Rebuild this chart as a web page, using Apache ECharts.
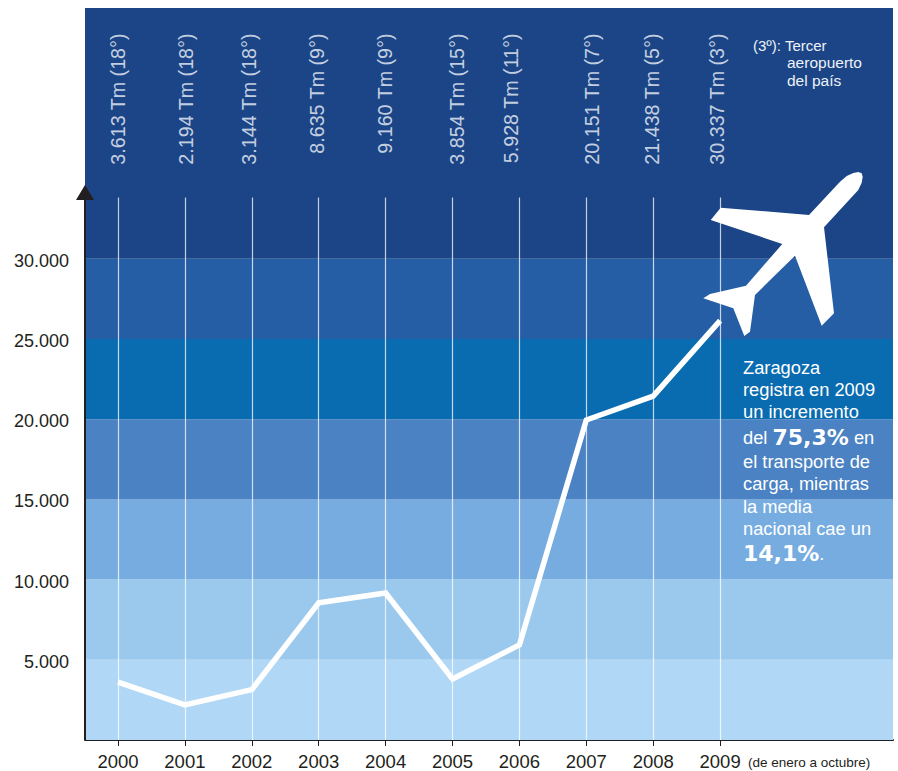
<!DOCTYPE html>
<html>
<head>
<meta charset="utf-8">
<style>
html,body{margin:0;padding:0;background:#fff}
#main{width:898px;height:771px}
</style>
<script src="https://cdn.jsdelivr.net/npm/echarts@6/dist/echarts.min.js"></script>
</head>
<body>
<div id="main"></div>
<script>
// data
const years = [2000,2001,2002,2003,2004,2005,2006,2007,2008,2009];
const tonnes = [3613,2194,3144,8560,9160,3800,5928,19950,21438,26150];
const yearLabels = ['3.613 Tm (18°)','2.194 Tm (18°)','3.144 Tm (18°)','8.635 Tm (9°)','9.160 Tm (9°)','3.854 Tm (15°)','5.928 Tm (11°)','20.151 Tm (7°)','21.438 Tm (5°)','30.337 Tm (3°)'];
const yTicks = [5000,10000,15000,20000,25000,30000];
const yTickLabels = ['5.000','10.000','15.000','20.000','25.000','30.000'];
const bandEdges = [0,5000,10000,15000,20000,25000,30000,45636];
const bandColors = ['#b0d7f5','#9bc9ee','#77ace0','#4a82c3','#0a6cb0','#265ea6','#1b4587'];

// layout
const xMin = 1999.507, xMax = 2011.584, yMax = 45636;
const dropTop = 33820, arrowTop = 34133, labelY = 44046;
const labelNudge = [0,1.5,-3,-2,-1,4,-8,6,-1,-3];
const font = '"Liberation Sans", Arial, sans-serif';

const planePoints = [[840,181.7],[846.7,176],[853.3,173],[858.3,172],[861.7,173.3],[862.7,176.7],[861.7,182.7],[858.3,190],[824,227.3],[834,313.3],[821.7,325.7],[795,255.7],[755,295],[750,331.7],[744.3,336],[733.3,308.3],[703.3,298.3],[710,294],[746,285.7],[782.3,244],[710.7,220],[720.7,207.7],[809,215]];

const noteLines = [
  [367,'Zaragoza'],[389,'registra en 2009'],[411,'un incremento'],
  [437,'del {b|75,3%} en'],[461,'el transporte de'],[483,'carga, mientras'],
  [506,'la media'],[528,'nacional cae un'],[553,'{b|14,1%}.']
];

const graphics = [
  {type:'polygon',z:50,shape:{points:planePoints},style:{fill:'#fff'}},
  {type:'text',z:50,x:753,y:45,style:{text:'(3º): Tercer',fill:'#eef2f8',font:'15px '+font,verticalAlign:'middle'}},
  {type:'text',z:50,x:787,y:62,style:{text:'aeropuerto',fill:'#eef2f8',font:'15.5px '+font,verticalAlign:'middle'}},
  {type:'text',z:50,x:787,y:80,style:{text:'del país',fill:'#eef2f8',font:'15.5px '+font,verticalAlign:'middle'}},
  {type:'text',z:50,x:748,y:762,style:{text:'(de enero a octubre)',fill:'#231f20',font:'13.5px '+font,verticalAlign:'middle'}}
];
noteLines.forEach(l=>{
  graphics.push({type:'text',z:50,x:743,y:l[0],style:{
    text:l[1],fill:'#fff',font:'18.3px '+font,verticalAlign:'middle',
    rich:{b:{font:'bold 22px "DejaVu Sans"',fill:'#fff',verticalAlign:'middle'}}
  }});
});

var myChart = echarts.init(document.getElementById('main'),null,{renderer:'svg'});
var option = {
  animation:false,
  backgroundColor:'#fff',
  grid:{left:85,top:8,width:808,height:732},
  xAxis:{
    type:'value',min:xMin,max:xMax,
    splitLine:{show:false},
    axisLine:{show:true,lineStyle:{color:'#231f20',width:2}},
    axisTick:{show:true,length:6,customValues:years,lineStyle:{color:'#231f20',width:1}},
    axisLabel:{customValues:years,formatter:v=>String(v),color:'#231f20',fontFamily:font,fontSize:18.5,margin:12}
  },
  yAxis:{
    type:'value',min:0,max:yMax,
    splitLine:{show:false},
    axisLine:{show:false},
    axisTick:{show:false},
    axisLabel:{customValues:yTicks,formatter:v=>'{t|'+yTickLabels[yTicks.indexOf(v)]+'}',margin:16,
      rich:{t:{color:'#231f20',fontFamily:font,fontSize:18,padding:[4,0,0,0]}}}
  },
  series:[
    {
      type:'line',data:[],z:1,silent:true,
      markArea:{silent:true,data:bandColors.map((c,i)=>[
        {yAxis:bandEdges[i],itemStyle:{color:c}},{yAxis:bandEdges[i+1]}
      ])}
    },
    {
      type:'line',data:[],z:2,silent:true,
      markLine:{silent:true,symbol:'none',label:{show:false},
        lineStyle:{color:'rgba(255,255,255,0.75)',width:1.2,type:'solid'},
        data:years.map(y=>[{xAxis:y,yAxis:0},{xAxis:y,yAxis:dropTop}])}
    },
    {
      type:'line',data:[],z:3,silent:true,clip:false,
      markLine:{silent:true,symbol:['none','triangle'],symbolSize:[18,15],label:{show:false},
        lineStyle:{color:'#231f20',width:2,type:'solid'},
        data:[[{xAxis:xMin,yAxis:0},{xAxis:xMin,yAxis:arrowTop}]]}
    },
    {
      type:'line',z:4,silent:true,symbol:'none',
      lineStyle:{color:'#fff',width:5.5,join:'miter',cap:'butt'},
      data:years.map((y,i)=>[y,tonnes[i]])
    },
    {
      type:'scatter',z:5,silent:true,symbolSize:0,
      data:years.map((y,i)=>({
        value:[y,labelY],
        label:{show:true,position:'inside',offset:[0,labelNudge[i]],rotate:90,align:'right',verticalAlign:'middle',
          formatter:yearLabels[i],color:'#f2f5fa',fontFamily:font,fontSize:19.7}
      }))
    }
  ],
  graphic:graphics
};
myChart.setOption(option);
</script>
</body>
</html>
